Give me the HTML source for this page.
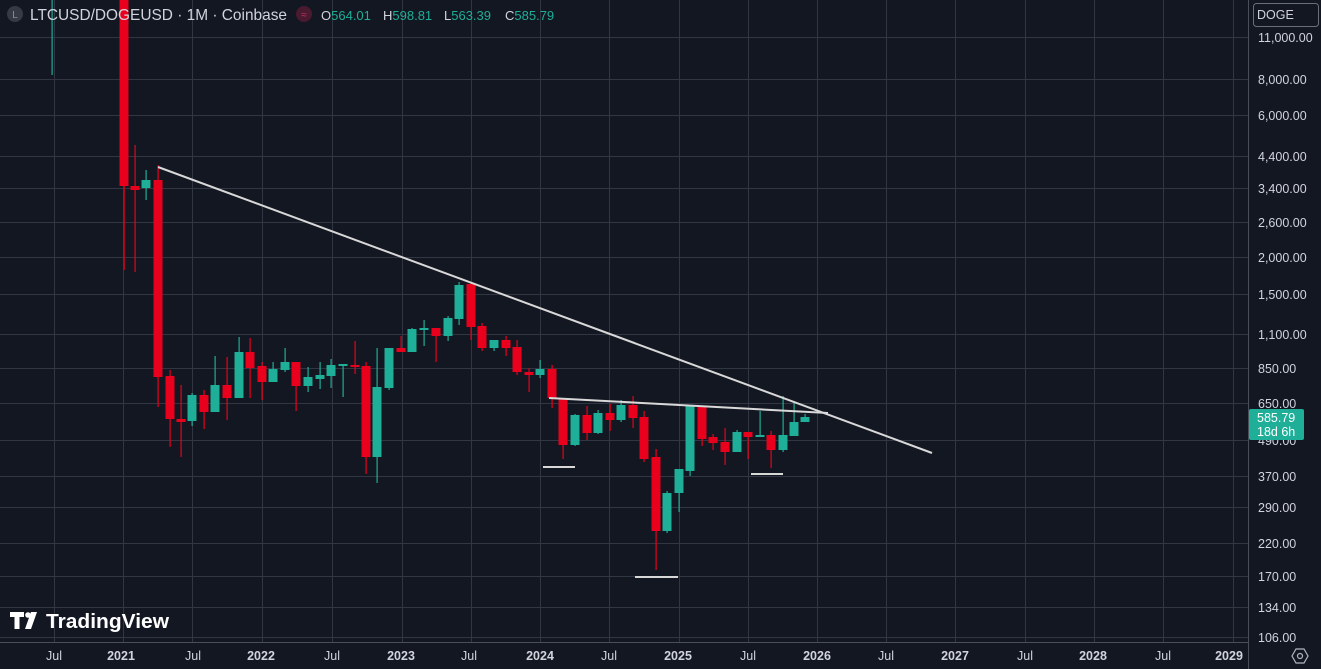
<!DOCTYPE html>
<html><head><meta charset="utf-8"><style>
html,body{margin:0;padding:0;background:#131722;overflow:hidden}
body{width:1321px;height:669px;position:relative;font-family:"Liberation Sans",sans-serif}
svg{position:absolute;left:0;top:0}
</style></head><body>
<svg id="s" width="1321" height="669" xmlns="http://www.w3.org/2000/svg">
<rect width="1321" height="669" fill="#131722"/>
<g id="grid" stroke="#323643" stroke-width="1"></g>
<g id="c"></g>
<g stroke="#d8d8d8" stroke-width="2" fill="none">
<line x1="158" y1="167" x2="932" y2="453"/>
<line x1="549" y1="398" x2="828" y2="413"/>
<line x1="543" y1="467" x2="575" y2="467"/>
<line x1="751" y1="474" x2="783" y2="474"/>
<line x1="635" y1="577" x2="678" y2="577"/>
</g>
<rect x="1249" y="0" width="72" height="669" fill="#131722"/>
<line x1="1248.5" y1="0" x2="1248.5" y2="669" stroke="#4a4e59"/>
<rect x="0" y="643" width="1248" height="26" fill="#131722"/>
<line x1="0" y1="642.5" x2="1248" y2="642.5" stroke="#4a4e59"/>
<g font-size="12.5" fill="#d1d4dc" text-anchor="start">
<text x="1258" y="42">11,000.00</text><text x="1258" y="84">8,000.00</text>
<text x="1258" y="120">6,000.00</text><text x="1258" y="161">4,400.00</text>
<text x="1258" y="193">3,400.00</text><text x="1258" y="227">2,600.00</text>
<text x="1258" y="262">2,000.00</text><text x="1258" y="299">1,500.00</text>
<text x="1258" y="339">1,100.00</text><text x="1258" y="373">850.00</text>
<text x="1258" y="408">650.00</text><text x="1258" y="445">490.00</text>
<text x="1258" y="481">370.00</text><text x="1258" y="512">290.00</text>
<text x="1258" y="548">220.00</text><text x="1258" y="581">170.00</text>
<text x="1258" y="612">134.00</text><text x="1258" y="642">106.00</text>
</g>
<rect x="1249" y="409" width="55" height="31" rx="2" fill="#1fae97"/>
<text x="1257" y="422" font-size="12.5" fill="#fff">585.79</text>
<text x="1257" y="436" font-size="12.5" fill="#fff">18d 6h</text>
<rect x="1253.5" y="3.5" width="65" height="23" rx="3" fill="#131722" stroke="#6a6e79"/>
<text x="1257" y="19" font-size="12.5" fill="#d1d4dc">DOGE</text>
<g font-size="12.5" fill="#d1d4dc" text-anchor="middle">
<text x="54" y="660">Jul</text><text x="121" y="660" font-weight="bold">2021</text>
<text x="193" y="660">Jul</text><text x="261" y="660" font-weight="bold">2022</text>
<text x="332" y="660">Jul</text><text x="401" y="660" font-weight="bold">2023</text>
<text x="469" y="660">Jul</text><text x="540" y="660" font-weight="bold">2024</text>
<text x="609" y="660">Jul</text><text x="678" y="660" font-weight="bold">2025</text>
<text x="748" y="660">Jul</text><text x="817" y="660" font-weight="bold">2026</text>
<text x="886" y="660">Jul</text><text x="955" y="660" font-weight="bold">2027</text>
<text x="1025" y="660">Jul</text><text x="1093" y="660" font-weight="bold">2028</text>
<text x="1163" y="660">Jul</text><text x="1229" y="660" font-weight="bold">2029</text>
</g>
<path d="M1296 649 l8 0 l4 7 l-4 7 l-8 0 l-4 -7z" fill="none" stroke="#b2b5be" stroke-width="1.2"/>
<circle cx="1300" cy="656" r="2.5" fill="none" stroke="#b2b5be" stroke-width="1.2"/>
<circle cx="15" cy="14" r="8" fill="#363a45"/>
<text x="15" y="18" font-size="10" fill="#8a8e99" text-anchor="middle">L</text>
<text x="30" y="20" font-size="16" fill="#d1d4dc" textLength="257" lengthAdjust="spacingAndGlyphs">LTCUSD/DOGEUSD · 1M · Coinbase</text>
<circle cx="304" cy="14" r="8" fill="#4a1a30"/>
<text x="304" y="18" font-size="10" fill="#c0306a" text-anchor="middle">≈</text>
<g font-size="13">
<text x="321" y="20" fill="#d1d4dc">O<tspan fill="#1fae97">564.01</tspan></text>
<text x="383" y="20" fill="#d1d4dc">H<tspan fill="#1fae97">598.81</tspan></text>
<text x="444" y="20" fill="#d1d4dc">L<tspan fill="#1fae97">563.39</tspan></text>
<text x="505" y="20" fill="#d1d4dc">C<tspan fill="#1fae97">585.79</tspan></text>
</g>
<g fill="#fff">
<path d="M10 612 h14 v5 h-4.5 v12 h-5 v-12 h-4.5z"/>
<circle cx="28" cy="615" r="2.8"/>
<path d="M31 612 h6 l-6 17 h-6z"/>
<text x="46" y="628" font-size="20" font-weight="bold" textLength="123" lengthAdjust="spacingAndGlyphs">TradingView</text>
</g>
</svg>
<script>
const ns="http://www.w3.org/2000/svg";
const g=document.getElementById('grid');
[37,79,115,156,188,222,257,294,334,368,403,440,476,507,543,576,607,637].forEach(y=>{const l=document.createElementNS(ns,'line');l.setAttribute('x1',0);l.setAttribute('x2',1248);l.setAttribute('y1',y+.5);l.setAttribute('y2',y+.5);g.appendChild(l);});
[54,123,192,262,332,402,471,540,609,679,748,817,886,955,1025,1094,1163,1233].forEach(x=>{const l=document.createElementNS(ns,'line');l.setAttribute('y1',0);l.setAttribute('y2',642);l.setAttribute('x1',x+.5);l.setAttribute('x2',x+.5);g.appendChild(l);});
const d=[
[52,56,58,0,75,1],
[124,0,186,0,270,0],[135,186,190,145,272,0],[146,180,188,170,200,1],[158,180,377,165,407,0],
[170,376,419,370,447,0],[181,419,422,385,457,0],[192,395,421,393,426,1],[204,395,412,390,429,0],
[215,385,412,356,412,1],[227,385,398,357,420,0],[239,352,398,337,398,1],[250,352,368,338,398,0],
[262,366,382,362,400,0],[273,369,382,362,382,1],[285,362,370,348,372,1],[296,362,386,362,411,0],
[308,377,386,367,392,1],[320,375,379,362,389,1],[331,365,376,359,388,1],[343,364,366,364,397,1],
[355,365,367,341,374,0],[366,366,457,362,474,0],[377,387,457,348,483,1],[389,348,388,348,390,1],
[401,348,352,336,352,0],[412,329,352,328,352,1],[424,328,329,320,346,1],[436,328,336,328,362,0],
[448,318,336,316,341,1],[459,285,319,282,325,1],[471,284,327,283,340,0],[482,326,348,323,351,0],
[494,340,348,340,351,1],[506,340,348,336,356,0],[517,347,372,340,375,0],[529,372,375,368,392,0],
[540,369,375,360,378,1],[552,369,398,365,408,0],[563,398,445,398,459,0],[575,415,445,414,446,1],
[587,415,433,406,440,0],[598,413,433,410,434,1],[610,413,420,404,431,0],[621,405,420,400,422,1],
[633,405,418,396,428,0],[644,417,459,411,462,0],[656,457,531,449,570,0],[667,493,531,491,533,1],
[679,469,493,469,512,1],[690,406,471,406,476,1],[702,407,439,407,446,0],[713,437,443,434,450,0],
[725,442,452,428,465,0],[737,432,452,430,452,1],[748,432,437,432,459,0],[760,435,436,411,436,1],
[771,435,450,431,468,0],[783,435,450,396,452,1],[794,422,436,401,436,1],[805,417,422,414,422,1]];
const c=document.getElementById('c');
d.forEach(([x,bt,bb,wt,wb,u])=>{const col=u?'#1fae97':'#e8001c';
const w=document.createElementNS(ns,'rect');w.setAttribute('x',x-0.5);w.setAttribute('y',wt);w.setAttribute('width',1.2);w.setAttribute('height',wb-wt);w.setAttribute('fill',col);c.appendChild(w);
if(x<60)return;
const r=document.createElementNS(ns,'rect');r.setAttribute('x',x-4.5);r.setAttribute('y',bt);r.setAttribute('width',9);r.setAttribute('height',Math.max(2,bb-bt));r.setAttribute('fill',col);c.appendChild(r);});
</script>
</body></html>
